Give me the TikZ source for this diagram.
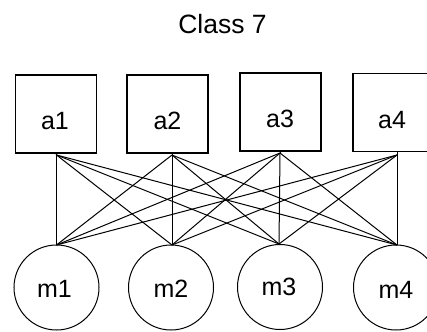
\documentclass[tikz,border=0pt]{standalone}
\usepackage{fontspec}
\setmainfont{Liberation Sans}
\begin{document}
\begin{tikzpicture}[x=1pt,y=-1pt,
  box/.style={draw,line width=1.2pt,minimum width=81pt,minimum height=78pt,inner sep=0pt},
  circ/.style={draw,circle,line width=1pt,minimum size=85pt,inner sep=0pt},
  lbl/.style={font=\fontsize{25}{25}\selectfont,inner sep=0pt},
  link/.style={line width=1pt}]
\useasboundingbox (0,0) rectangle (427,331);
\node[font=\fontsize{26.5}{26.5}\selectfont,inner sep=0pt] (title) at (222.5,24) {Class 7};
% boxes
\node[box] (a1) at (56,114) {};
\node[box] (a2) at (167.5,114) {};
\node[box] (a3) at (280.5,112) {};
\node[box] (a4) at (393.5,112.5) {};
\node[lbl] (a1t) at (55,121) {a1};
\node[lbl] (a2t) at (167.5,121) {a2};
\node[lbl] (a3t) at (280,119) {a3};
\node[lbl] (a4t) at (392,120) {a4};
% circles
\node[circ] (m1) at (56.5,287.5) {};
\node[circ] (m2) at (171,287.5) {};
\node[circ] (m3) at (280,287) {};
\node[circ] (m4) at (396,287.5) {};
\node[lbl] (m1t) at (54.5,289) {m1};
\node[lbl] (m2t) at (171,289) {m2};
\node[lbl] (m3t) at (279,287) {m3};
\node[lbl] (m4t) at (396,290) {m4};
% connection points
\coordinate (p1) at (56.5,155);
\coordinate (p2) at (172,155);
\coordinate (p3) at (280,153);
\coordinate (p4) at (397,155);
\coordinate (q1) at (56.5,245);
\coordinate (q2) at (172,245);
\coordinate (q3) at (279,244);
\coordinate (q4) at (397,245);
\draw[link] (a1.south) -- (p1);
\draw[link] (a2.south -| p2) -- (p2);
\draw[link] (a3.south -| p3) -- (p3);
\draw[link] (a4.south -| p4) -- (p4);
\foreach \i in {1,2,3,4}{
  \foreach \j in {1,2,3,4}{
    \draw[link] (p\i) -- (q\j);
  }
}
\end{tikzpicture}
\end{document}
